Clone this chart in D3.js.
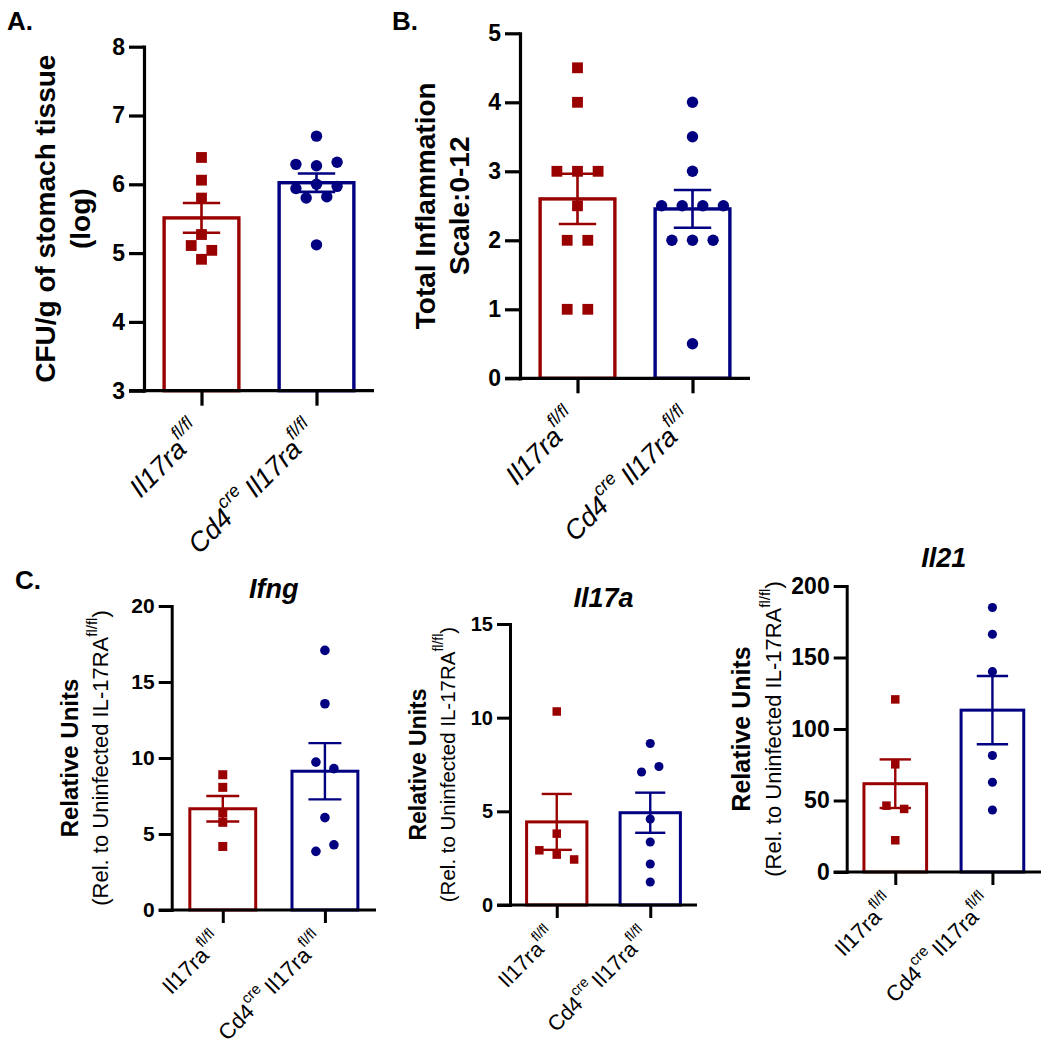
<!DOCTYPE html>
<html>
<head>
<meta charset="utf-8">
<script src="https://cdn.jsdelivr.net/npm/d3@7.9.0/dist/d3.min.js"></script>
<style>
  body { margin: 0; background: #fff; }
  svg { display: block; }
  text { font-family: Arial, "Liberation Sans", sans-serif; white-space: pre; }
</style>
</head>
<body>
<svg id="fig" width="1050" height="1050"></svg>
<script>
// groups (x categories), left = floxed control, right = Cd4-cre knockout
const groups = ['ctrl', 'cko'];
const groupLabels = [
  [{ t: 'Il17ra' }, { t: 'fl/fl', sup: true }],
  [{ t: 'Cd4' }, { t: 'cre ', sup: true }, { t: 'Il17ra' }, { t: 'fl/fl', sup: true }]
];
const colors = ['#990000', '#000080'];

// A. CFU/g of stomach tissue (log)
const cfuCtrl = [6.39, 6.06, 5.80, 5.27, 5.11, 5.04, 4.91];
const cfuCko = [6.70, 6.29, 6.27, 6.32, 5.94, 6.00, 5.97, 5.80, 5.82, 5.12];
const cfuTicks = [3, 4, 5, 6, 7, 8];

// B. Total inflammation score
const inflCtrl = [4.5, 4.0, 3.0, 3.0, 3.0, 2.5, 2.0, 2.0, 1.0, 1.0];
const inflCko = [4.0, 3.5, 3.0, 2.5, 2.5, 2.5, 2.5, 2.0, 2.0, 2.0, 0.5];
const inflTicks = [0, 1, 2, 3, 4, 5];

// C. relative expression
const ifngCtrl = [8.90, 8.07, 6.38, 5.77, 4.18];
const ifngCko = [17.08, 13.57, 9.73, 9.30, 6.08, 3.86, 4.29];
const ifngTicks = [0, 5, 10, 15, 20];

const il17aCtrl = [10.33, 3.81, 2.92, 2.69, 2.43];
const il17aCko = [8.62, 7.10, 7.39, 4.59, 3.36, 2.19, 1.23];
const il17aTicks = [0, 5, 10, 15];

const il21Ctrl = [120.7, 75.3, 46.4, 44.1, 22.2];
const il21Cko = [185.0, 166.3, 140.1, 81.5, 62.8, 43.4];
const il21Ticks = [0, 50, 100, 150, 200];

const svg = d3.select('#fig');

const big = { tickLen: 15, tickFont: 23, axisW: 3.2, barW: 3.4, errW: 2.6, barFrac: 0.65,
  marker: 10.8, spacing: 20.6, labFont: 27, supFont: 18, italic: true, labDx: 3, labDy: 44 };
const small = { tickLen: 13, tickFont: 21, axisW: 3, barW: 3, errW: 2.4, barFrac: 0.645,
  marker: 9, spacing: 18, labFont: 22, supFont: 15, italic: false, labDx: 1, labDy: 33 };

const relTitle = [{ t: '(Rel. to Uninfected IL-17RA' }, { t: 'fl/fl', sup: true }, { t: ')' }];

const panels = [
  { ...big, series: [cfuCtrl, cfuCko], ticks: cfuTicks, domain: [3, 8],
    left: 144, right: 374, top: 46.7, bottom: 390.7,
    yTitle: [{ parts: [{ t: 'CFU/g of stomach tissue' }], cx: 45, size: 28, bold: true },
             { parts: [{ t: '(log)' }], cx: 80, size: 28, bold: true }] },
  { ...big, series: [inflCtrl, inflCko], ticks: inflTicks, domain: [0, 5],
    left: 520, right: 750, top: 33.3, bottom: 378.3,
    yTitle: [{ parts: [{ t: 'Total Inflammation' }], cx: 425, size: 28, bold: true },
             { parts: [{ t: 'Scale:0-12' }], cx: 459, size: 28, bold: true }] },
  { ...small, series: [ifngCtrl, ifngCko], ticks: ifngTicks, domain: [0, 20],
    left: 171.7, right: 376, top: 606, bottom: 910,
    title: 'Ifng', titleY: 598,
    yTitle: [{ parts: [{ t: 'Relative Units' }], cx: 69, size: 24, bold: true },
             { parts: relTitle, cx: 100, size: 22, sup: 15 }] },
  { ...small, series: [il17aCtrl, il17aCko], ticks: il17aTicks, domain: [0, 15],
    left: 510, right: 697, top: 624, bottom: 905, marker: 8.5, spacing: 17.4, tickFont: 20,
    labFont: 21.5, supFont: 14,
    title: 'Il17a', titleY: 607,
    yTitle: [{ parts: [{ t: 'Relative Units' }], cx: 418, size: 23, bold: true },
             { parts: relTitle, cx: 447, size: 20.5, sup: 14 }] },
  { ...small, series: [il21Ctrl, il21Cko], ticks: il21Ticks, domain: [0, 200],
    left: 846.7, right: 1041, top: 586, bottom: 872, marker: 8.5, spacing: 17.7, tickFont: 23,
    title: 'Il21', titleY: 567,
    yTitle: [{ parts: [{ t: 'Relative Units' }], cx: 741, size: 25, bold: true },
             { parts: relTitle, cx: 773, size: 22, sup: 15 }] }
];

// writes text pieces, raising the superscript ones
function richText(sel, parts, supSize, raise) {
  let up = false;
  parts.forEach(p => {
    const ts = sel.append('tspan').text(p.t);
    if (p.sup) {
      ts.attr('font-size', supSize);
      if (!up) { ts.attr('dy', -raise); up = true; }
    } else if (up) {
      ts.attr('dy', raise); up = false;
    }
  });
}

// spreads points of (nearly) equal value sideways, rows centred on the bar
function swarm(vals, y, spacing) {
  const order = d3.range(vals.length).sort((a, b) => vals[b] - vals[a]);
  const rows = [];
  let cur = [];
  order.forEach((i, k) => {
    if (k > 0 && Math.abs(y(vals[order[k - 1]]) - y(vals[i])) > 7) { rows.push(cur); cur = []; }
    cur.push(i);
  });
  rows.push(cur);
  const dx = [];
  rows.forEach(r => {
    r.sort((a, b) => a - b);
    r.forEach((i, j) => dx[i] = (j - (r.length - 1) / 2) * spacing);
  });
  return vals.map((v, i) => ({ v, dx: dx[i] }));
}

function drawPanel(p) {
  const g = svg.append('g');
  const x = d3.scalePoint().domain(groups).range([p.left, p.right]).padding(0.5);
  const y = d3.scaleLinear().domain(p.domain).range([p.bottom, p.top]);
  const bw = x.step() * p.barFrac;

  const stats = p.series.map((vals, i) => ({
    key: groups[i],
    color: colors[i],
    mean: d3.mean(vals),
    sem: d3.deviation(vals) / Math.sqrt(vals.length),
    pts: swarm(vals, y, p.spacing)
  }));

  // bars
  g.append('g').selectAll('rect')
    .data(stats)
    .join('rect')
    .attr('x', d => x(d.key) - bw / 2)
    .attr('y', d => y(d.mean))
    .attr('width', bw)
    .attr('height', d => y(p.domain[0]) - y(d.mean))
    .attr('fill', '#fff')
    .attr('stroke', d => d.color)
    .attr('stroke-width', p.barW);

  // points: squares for control, circles for knockout
  stats.forEach((s, i) => {
    const pg = g.append('g').attr('fill', s.color);
    if (i === 0) {
      pg.selectAll('rect')
        .data(s.pts)
        .join('rect')
        .attr('x', d => x(s.key) + d.dx - p.marker / 2)
        .attr('y', d => y(d.v) - p.marker / 2)
        .attr('width', p.marker)
        .attr('height', p.marker);
    } else {
      pg.selectAll('circle')
        .data(s.pts)
        .join('circle')
        .attr('cx', d => x(s.key) + d.dx)
        .attr('cy', d => y(d.v))
        .attr('r', p.marker / 2 + 0.3);
    }
  });

  // mean +/- SEM
  const cap = bw / 2;
  const eb = g.append('g').selectAll('g')
    .data(stats)
    .join('g')
    .attr('stroke', d => d.color)
    .attr('stroke-width', p.errW);
  eb.append('line')
    .attr('x1', d => x(d.key)).attr('x2', d => x(d.key))
    .attr('y1', d => y(d.mean - d.sem)).attr('y2', d => y(d.mean + d.sem));
  eb.append('line')
    .attr('x1', d => x(d.key) - cap / 2).attr('x2', d => x(d.key) + cap / 2)
    .attr('y1', d => y(d.mean + d.sem)).attr('y2', d => y(d.mean + d.sem));
  eb.append('line')
    .attr('x1', d => x(d.key) - cap / 2).attr('x2', d => x(d.key) + cap / 2)
    .attr('y1', d => y(d.mean - d.sem)).attr('y2', d => y(d.mean - d.sem));

  // y axis
  const ya = g.append('g')
    .attr('transform', `translate(${p.left},0)`)
    .call(d3.axisLeft(y).tickValues(p.ticks).tickSize(p.tickLen).tickSizeOuter(0).tickPadding(4).tickFormat(d3.format('d')));
  ya.selectAll('path, line').attr('stroke', '#000').attr('stroke-width', p.axisW);
  ya.select('.domain').attr('stroke-linecap', 'square');
  ya.selectAll('text')
    .attr('font-size', p.tickFont)
    .attr('font-weight', 'bold')
    .attr('font-family', 'Arial, "Liberation Sans", sans-serif')
    .attr('fill', '#000');

  // x axis
  const xa = g.append('g')
    .attr('transform', `translate(0,${p.bottom})`)
    .call(d3.axisBottom(x).tickSize(p.tickLen).tickSizeOuter(0).tickFormat(''));
  xa.select('.domain').attr('d', `M${p.left - p.tickLen},0H${p.right}`);
  xa.selectAll('path, line').attr('stroke', '#000').attr('stroke-width', p.axisW);

  // rotated category labels
  groups.forEach((k, i) => {
    const t = g.append('text')
      .attr('transform', `translate(${x(k) + p.labDx},${p.bottom + p.labDy}) rotate(-45)`)
      .attr('text-anchor', 'end')
      .attr('font-size', p.labFont)
      .attr('font-style', p.italic ? 'italic' : 'normal');
    richText(t, groupLabels[i], p.supFont, p.labFont * 0.55);
  });

  // y title
  const cy = (p.top + p.bottom) / 2;
  p.yTitle.forEach(line => {
    const t = g.append('text')
      .attr('transform', `translate(${line.cx},${cy}) rotate(-90)`)
      .attr('text-anchor', 'middle')
      .attr('dominant-baseline', 'central')
      .attr('font-size', line.size)
      .attr('font-weight', line.bold ? 'bold' : 'normal');
    richText(t, line.parts, line.sup || line.size * 0.65, line.size * 0.42);
  });

  if (p.title) {
    g.append('text')
      .attr('x', (p.left + p.right) / 2)
      .attr('y', p.titleY)
      .attr('text-anchor', 'middle')
      .attr('font-size', 27)
      .attr('font-weight', 'bold')
      .attr('font-style', 'italic')
      .text(p.title);
  }
}

panels.forEach(drawPanel);

// panel letters
svg.append('g')
  .attr('font-size', 26)
  .attr('font-weight', 'bold')
  .selectAll('text')
  .data([['A.', 7, 30], ['B.', 392, 30], ['C.', 15, 589]])
  .join('text')
  .attr('x', d => d[1])
  .attr('y', d => d[2])
  .text(d => d[0]);
</script>
</body>
</html>
